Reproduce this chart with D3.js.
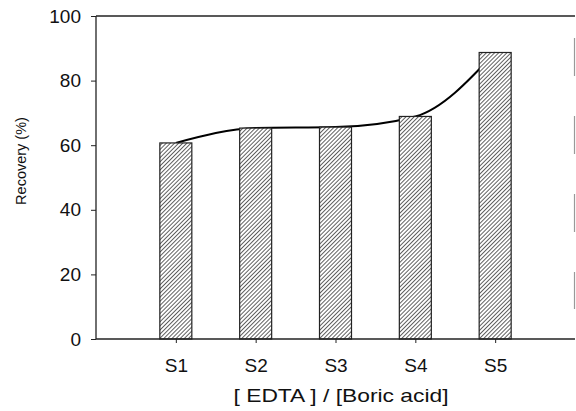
<!DOCTYPE html>
<html lang="en">
<head>
<meta charset="utf-8">
<title>Recovery</title>
<script src="https://cdn.jsdelivr.net/npm/d3@7"></script>
<style>
    body { margin: 0; background: #fff; }
    text { font-family: Arial, "Liberation Sans", sans-serif; fill: #111; }
</style>
</head>
<body>
<script>

    // data
    var samples = ["S1", "S2", "S3", "S4", "S5"];
    var recovery = [60.7, 65.3, 65.6, 68.9, 88.7];
    var yTicks = [0, 20, 40, 60, 80, 100];

    var W = 576, H = 411;
    var margin = {top: 16, right: 1, bottom: 72, left: 96};
    var w = W - margin.left - margin.right,
        h = H - margin.top - margin.bottom;

    var svg = d3.select("body").append("svg")
        .attr("width", W)
        .attr("height", H);

    // hatch for the bars
    var defs = svg.append("defs");
    var pat = defs.append("pattern")
        .attr("id", "hatch")
        .attr("patternUnits", "userSpaceOnUse")
        .attr("width", 2.9)
        .attr("height", 2.9)
        .attr("patternTransform", "rotate(45)");
    pat.append("rect").attr("width", 2.9).attr("height", 2.9).attr("fill", "#fff");
    pat.append("line")
        .attr("x1", 0).attr("y1", 0).attr("x2", 0).attr("y2", 2.9)
        .attr("stroke", "#1e1e1e")
        .attr("stroke-width", 1.4);

    var g = svg.append("g")
        .attr("transform", "translate(" + margin.left + "," + margin.top + ")");

    // empty slot on each side of the samples
    var xScale = d3.scalePoint()
        .domain(["_a"].concat(samples).concat(["_b"]))
        .range([0, w]);

    var yScale = d3.scaleLinear()
        .domain([0, 100])
        .range([h, 0]);

    var barW = 32;

    // frame: top line and faint right edge
    g.append("line")
        .attr("x1", 0).attr("x2", w)
        .attr("y1", 0).attr("y2", 0)
        .attr("stroke", "#222").attr("stroke-width", 1.3);
    g.append("line")
        .attr("x1", w - 0.5).attr("x2", w - 0.5)
        .attr("y1", 22).attr("y2", h - 30)
        .attr("stroke", "#999").attr("stroke-width", 1.2)
        .attr("stroke-dasharray", "38,40");

    // trend curve, sits under the bars
    var line = d3.line()
        .x(function (d, i) { return xScale(samples[i]); })
        .y(function (d) { return yScale(d); })
        .curve(d3.curveMonotoneX);

    g.append("path")
        .datum(recovery)
        .attr("d", line)
        .attr("fill", "none")
        .attr("stroke", "#000")
        .attr("stroke-width", 2);

    // bars
    g.selectAll("rect.bar")
        .data(recovery)
        .enter()
        .append("rect")
        .attr("class", "bar")
        .attr("x", function (d, i) { return xScale(samples[i]) - barW / 2; })
        .attr("y", function (d) { return yScale(d); })
        .attr("width", barW)
        .attr("height", function (d) { return h - yScale(d); })
        .attr("fill", "url(#hatch)")
        .attr("stroke", "#222")
        .attr("stroke-width", 1.2);

    // y axis
    var yAxis = d3.axisLeft(yScale)
        .tickValues(yTicks)
        .tickSize(5)
        .tickPadding(10);

    var ya = g.append("g").call(yAxis);
    ya.select(".domain").remove();
    ya.selectAll("line").attr("stroke", "#222");
    ya.selectAll("text").style("font-size", "19px");
    g.append("line")
        .attr("x1", 0).attr("x2", 0)
        .attr("y1", 0).attr("y2", h)
        .attr("stroke", "#222").attr("stroke-width", 1.3);

    // x axis
    var xAxis = d3.axisBottom(xScale)
        .tickValues(samples)
        .tickSize(4)
        .tickPadding(16);

    var xa = g.append("g")
        .attr("transform", "translate(0," + h + ")")
        .call(xAxis);
    xa.select(".domain").remove();
    xa.selectAll("line").attr("stroke", "#222");
    xa.selectAll("text").style("font-size", "19px");
    g.append("line")
        .attr("x1", 0).attr("x2", w)
        .attr("y1", h).attr("y2", h)
        .attr("stroke", "#222").attr("stroke-width", 1.3);

    // axis titles
    svg.append("text")
        .attr("x", 341)
        .attr("y", 402)
        .attr("text-anchor", "middle")
        .attr("textLength", 215)
        .attr("lengthAdjust", "spacingAndGlyphs")
        .style("font-size", "19px")
        .text("[ EDTA ] / [Boric acid]");

    svg.append("text")
        .attr("transform", "translate(26," + 161 + ") rotate(-90)")
        .attr("text-anchor", "middle")
        .style("font-size", "14.5px")
        .text("Recovery (%)");

</script>
</body>
</html>
